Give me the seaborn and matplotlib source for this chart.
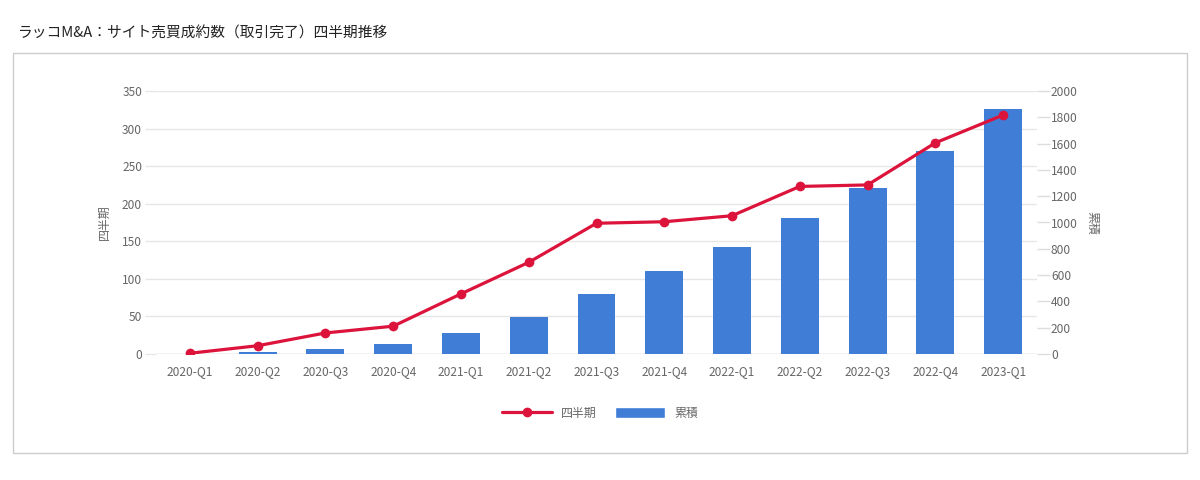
import pandas as pd
import seaborn as sns
import matplotlib.pyplot as plt
from matplotlib.lines import Line2D
from matplotlib.patches import Patch, Rectangle

quarters = ['2020-Q1', '2020-Q2', '2020-Q3', '2020-Q4',
            '2021-Q1', '2021-Q2', '2021-Q3', '2021-Q4',
            '2022-Q1', '2022-Q2', '2022-Q3', '2022-Q4', '2023-Q1']
quarterly = [1, 11, 28, 37, 80, 122, 174, 176, 184, 223, 225, 281, 318]
cumulative = [1, 12, 40, 77, 157, 279, 453, 629, 813, 1036, 1261, 1542, 1860]
left_ticks = [0, 50, 100, 150, 200, 250, 300, 350]
right_ticks = [0, 200, 400, 600, 800, 1000, 1200, 1400, 1600, 1800, 2000]

title = 'ラッコM&A：サイト売買成約数（取引完了）四半期推移'
RED = '#dc143c'
BLUE = '#3f7dd6'
GREY = '#666666'
GRID = '#e6e6e6'

if __name__ == "__main__":
    df = pd.DataFrame({'quarter': quarters, '四半期': quarterly, '累積': cumulative})

    sns.set_theme(style='white')
    plt.rcParams['font.family'] = ['Noto Sans CJK JP', 'DejaVu Sans']

    fig = plt.figure(figsize=(12, 4.8), dpi=100)
    fig.patches.append(Rectangle((13 / 1200, 27 / 480), 1174 / 1200, 400 / 480,
                                 transform=fig.transFigure, fill=False,
                                 edgecolor='#cccccc', linewidth=1))
    fig.text(18 / 1200, 1 - 34 / 480, title, fontsize=10.6, color='#222222',
             ha='left', va='center')

    ax = fig.add_axes([156 / 1200, 126 / 480, 881 / 1200, 263 / 480])
    ax_bar = ax.twinx()
    ax_line = ax.twinx()

    sns.barplot(data=df, x='quarter', y='累積', ax=ax_bar, color=BLUE,
                width=0.56, saturation=1, linewidth=0)
    sns.pointplot(data=df, x='quarter', y='四半期', ax=ax_line, color=RED,
                  markers='o', linestyles='-', markersize=7, linewidth=2.3,
                  markeredgewidth=0, errorbar=None)

    # left axis: quarterly scale with grid
    ax.set_ylim(0, 350)
    ax.set_yticks(left_ticks)
    ax.grid(axis='y', color=GRID, linewidth=1)
    ax.grid(axis='x', visible=False)
    ax.tick_params(axis='y', left=True, length=8, width=1, color=GRID,
                   labelcolor=GREY, labelsize=8.6, pad=2)
    ax.tick_params(axis='x', length=0, labelcolor=GREY, labelsize=8.6, pad=8)
    ax.set_ylabel('四半期', color=GREY, fontsize=8.6, labelpad=8)
    ax.get_ygridlines()[0].set_color('#bdbdbd')

    # right axis: cumulative scale
    ax_bar.set_ylim(0, 2000)
    ax_bar.set_yticks(right_ticks)
    ax_bar.tick_params(axis='y', right=True, length=9, width=1, color='#dddddd',
                       labelcolor=GREY, labelsize=8.6, pad=1)
    ax_bar.set_ylabel('累積', color=GREY, fontsize=8.6, rotation=270, labelpad=15)
    ax_bar.set_xlabel('')

    ax_line.set_ylim(0, 350)
    ax_line.yaxis.set_visible(False)
    ax_line.set_xlabel('')

    for a in (ax, ax_bar, ax_line):
        for s in a.spines.values():
            s.set_visible(False)

    ax.set_xlim(-0.5, len(quarters) - 0.5)
    ax.set_xticks(range(len(quarters)), quarters)
    ax.set_xlabel('')

    handles = [Line2D([0], [0], color=RED, linewidth=2.3, marker='o', markersize=6),
               Patch(facecolor=BLUE)]
    fig.legend(handles=handles, labels=['四半期', '累積'], loc='center',
               bbox_to_anchor=(0.5, 1 - 413 / 480), ncol=2, frameon=False,
               handlelength=4.2, handleheight=1.05, handletextpad=0.8,
               columnspacing=1.5, fontsize=8.6, labelcolor=GREY)

    fig.savefig('out.png', dpi=100)
